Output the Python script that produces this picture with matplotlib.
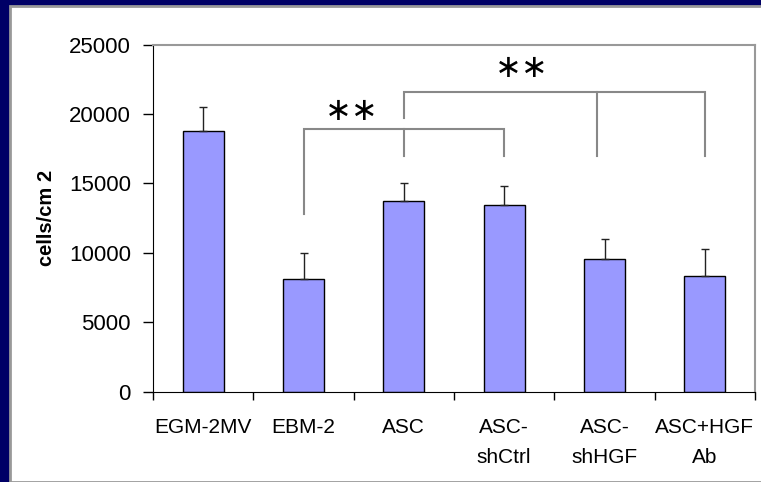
import matplotlib.pyplot as plt
from matplotlib.patches import Rectangle

# Data
groups = ['EGM-2MV', 'EBM-2', 'ASC', 'ASC-\nshCtrl', 'ASC-\nshHGF', 'ASC+HGF\nAb']
cells = [18780, 8100, 13700, 13480, 9550, 8330]
err = [1700, 1900, 1300, 1300, 1450, 1950]

# significance brackets: (left, middle, right) group index, bar level, drop ends
bracket_x = [(1, 2, 3), (2, 3.93, 5)]
bracket_top = [18890, 21590]
bracket_left_end = [12760, 19700]
bracket_drop_end = [16970, 16970]
star_pos = [(1.48, 20170), (3.18, 23320)]

plt.rcParams['font.family'] = ['Liberation Sans', 'DejaVu Sans']

fig = plt.figure(figsize=(7.61, 4.82), dpi=100)
fig.patch.set_facecolor('#000066')
fig.patches.append(Rectangle((10 / 761, 0), 1, (482 - 6) / 482, transform=fig.transFigure,
                             facecolor='white', edgecolor='#999999', linewidth=2, zorder=-10))

ax = fig.add_axes([153 / 761, (482 - 391.5) / 482, 602 / 761, (391.5 - 44.7) / 482])
ax.set_facecolor('white')
x = list(range(len(groups)))
ax.bar(x, cells, width=0.41, color='#9999FF', edgecolor='black', linewidth=1,
       yerr=[[0] * len(err), err], capsize=3, error_kw=dict(elinewidth=1, ecolor='#222222'))

gray = '#888888'
for (l, m, r), top, lend, dend in zip(bracket_x, bracket_top, bracket_left_end, bracket_drop_end):
    ax.plot([l, l, r, r], [lend, top, top, dend], color=gray, linewidth=1.5, solid_joinstyle='miter')
    ax.plot([m, m], [top, dend], color=gray, linewidth=1.5)

for sx, sy in star_pos:
    ax.text(sx, sy, '∗∗', ha='center', va='center', fontsize=23, family='DejaVu Sans')

ax.set_xlim(-0.5, len(groups) - 0.5)
ax.set_ylim(0, 25000)
ax.set_yticks(range(0, 25001, 5000))
ax.set_xticks([i - 0.5 for i in range(len(groups) + 1)])
ax.set_xticklabels([])
ax.set_xticks(x, minor=True)
ax.set_xticklabels(groups, minor=True, fontsize=15, linespacing=1.75)
ax.tick_params(axis='x', which='minor', length=0, pad=19)
ax.tick_params(axis='x', which='major', length=6, width=1, direction='out')
ax.tick_params(axis='y', length=7, width=1, labelsize=16, pad=9)

ax.spines['top'].set_color('#999999')
ax.spines['right'].set_color('#999999')
ax.spines['top'].set_linewidth(1.5)
ax.spines['right'].set_linewidth(1.5)
ax.set_ylabel('cells/cm 2', fontsize=14.5, fontweight='bold', labelpad=9)

fig.savefig('out.png', dpi=100, facecolor=fig.get_facecolor())
